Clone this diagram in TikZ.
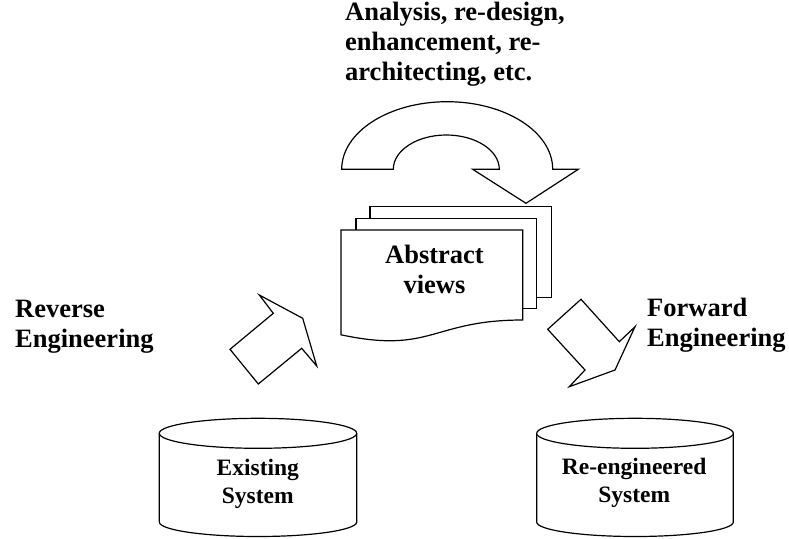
\documentclass[tikz,border=0pt]{standalone}
\usepackage{fontspec}
\setmainfont{Liberation Serif}
\usepackage{tikz}
\usetikzlibrary{positioning}

\tikzset{
  outline/.style={draw=black,fill=white,line width=1.2pt,line join=miter},
  bigtext/.style={font=\bfseries\fontsize{26.5}{30}\selectfont,inner sep=0pt},
  drumtext/.style={font=\bfseries\fontsize{23.5}{28}\selectfont,inner sep=0pt,align=center}
}

\begin{document}
\begin{tikzpicture}[x=1pt,y=-1pt]
  \useasboundingbox (0,0) rectangle (789,538);

  % curved arrow on top:
  \draw[outline] (341.7,169.3) arc[start angle=180,end angle=0,x radius=105.5pt,y radius=67.6pt]
     -- (578.3,169.3) -- (526,203.3) -- (472.7,169.3) -- (499.3,169.3)
     arc[start angle=0,end angle=180,x radius=53pt,y radius=34.3pt] -- cycle;

  % stack of sheets:
  \draw[outline] (370,206.7) rectangle (551.7,297.3);
  \draw[outline] (356,218.7) rectangle (536.7,308.3);
  \draw[outline] (341,230) -- (522.7,230) -- (522.7,320)
     .. controls (431.85,320) and (431.85,354.2) .. (341,334.8) -- cycle;

  % reverse engineering arrow:
  \draw[outline] (230,349.3) -- (273.3,313.3) -- (259.3,295) -- (302.7,318.3)
     -- (316.7,366) -- (301.7,348.3) -- (258.3,384) -- cycle;

  % forward engineering arrow:
  \draw[outline] (581,299.3) -- (619.3,341.7) -- (635,326.7) -- (615,370)
     -- (569.3,386.7) -- (585,370) -- (547.7,329.3) -- cycle;

  % systems:
  \draw[outline] (159.3,433.3) -- (159.3,522)
     arc[start angle=180,end angle=360,x radius=98.7pt,y radius=14.5pt] -- (356.7,433.3);
  \draw[outline] (258,433.3) ellipse[x radius=98.7pt,y radius=15pt];
  \draw[outline] (536.7,433.3) -- (536.7,522)
     arc[start angle=180,end angle=360,x radius=98.3pt,y radius=14.5pt] -- (733.3,433.3);
  \draw[outline] (635,433.3) ellipse[x radius=98.3pt,y radius=15pt];

  % labels (base = last line):
  \node[bigtext,align=left,anchor=base west] (tasks) at (345,80)
     {Analysis, re-design,\\enhancement, re-\\architecting, etc.};
  \node[bigtext,align=left,anchor=base west] (reverse) at (15,347) {Reverse\\Engineering};
  \node[bigtext,align=left,anchor=base west] (forward) at (647,346) {Forward\\Engineering};
  \node[bigtext,align=center,anchor=base] (views) at (434.5,293.3) {Abstract\\views};
  \node[drumtext,anchor=base] (existing) at (257.8,503) {Existing\\System};
  \node[drumtext,anchor=base] (reeng) at (634.2,502) {Re-engineered\\System};
\end{tikzpicture}
\end{document}
